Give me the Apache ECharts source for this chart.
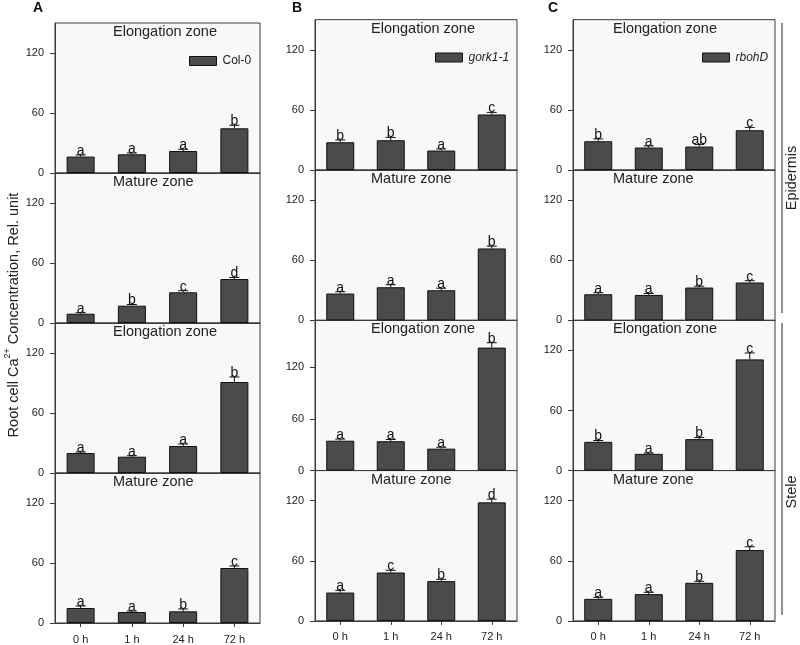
<!DOCTYPE html>
<html><head><meta charset="utf-8">
<script src="https://cdn.jsdelivr.net/npm/echarts@6/dist/echarts.min.js"></script>
<style>html,body{margin:0;padding:0;background:#fff}#c{width:800px;height:645px}</style>
</head><body><div id="c"></div>
<script>
// ---------- DATA ----------
const categories = ['0 h', '1 h', '24 h', '72 h'];
const yTicks = [0, 60, 120];
const genotypes = ['Col-0', 'gork1-1', 'rbohD'];
const zoneTitles = ['Elongation zone', 'Mature zone', 'Elongation zone', 'Mature zone'];
const tissueLabels = ['Epidermis', 'Stele'];
const panelLetters = ['A', 'B', 'C'];

// Col-0
const col0_epiElong_mean = [16.4, 18.7, 22, 44.7];
const col0_epiElong_err = [18, 20, 23.7, 47.7];
const col0_epiElong_sig = ['a', 'a', 'a', 'b'];
const col0_epiMature_mean = [9.3, 17.3, 30.7, 44];
const col0_epiMature_err = [10.3, 18.5, 32.3, 45.5];
const col0_epiMature_sig = ['a', 'b', 'c', 'd'];
const col0_steleElong_mean = [20, 16.3, 27, 91];
const col0_steleElong_err = [21, 17.3, 29, 96];
const col0_steleElong_sig = ['a', 'a', 'a', 'b'];
const col0_steleMature_mean = [15, 11, 11.7, 55];
const col0_steleMature_err = [17, 12, 14, 57];
const col0_steleMature_sig = ['a', 'a', 'b', 'c'];
// gork1-1
const gork_epiElong_mean = [27.7, 29.7, 19.4, 55.4];
const gork_epiElong_err = [30, 32.5, 21, 57.5];
const gork_epiElong_sig = ['b', 'b', 'a', 'c'];
const gork_epiMature_mean = [26.7, 33, 30, 71.7];
const gork_epiMature_err = [28.5, 35.5, 32, 74];
const gork_epiMature_sig = ['a', 'a', 'a', 'b'];
const gork_steleElong_mean = [34.6, 34, 25.4, 142.4];
const gork_steleElong_err = [36.5, 36, 27, 148];
const gork_steleElong_sig = ['a', 'a', 'a', 'b'];
const gork_steleMature_mean = [28.3, 48.3, 39.7, 118.3];
const gork_steleMature_err = [30.5, 50.5, 41.5, 121.5];
const gork_steleMature_sig = ['a', 'c', 'b', 'd'];
// rbohD
const rboh_epiElong_mean = [28.7, 22.4, 23.4, 39.7];
const rboh_epiElong_err = [31, 24, 25.5, 42.5];
const rboh_epiElong_sig = ['b', 'a', 'ab', 'c'];
const rboh_epiMature_mean = [26, 25.3, 32.7, 37.7];
const rboh_epiMature_err = [27.5, 26.7, 34, 39.5];
const rboh_epiMature_sig = ['a', 'a', 'b', 'c'];
const rboh_steleElong_mean = [28.7, 16.7, 31.4, 111];
const rboh_steleElong_err = [30, 17.5, 33, 117.4];
const rboh_steleElong_sig = ['b', 'a', 'b', 'c'];
const rboh_steleMature_mean = [22, 26.7, 38, 70.7];
const rboh_steleMature_err = [23.5, 28.5, 39.5, 74];
const rboh_steleMature_sig = ['a', 'a', 'b', 'c'];

// axis maxima per panel (column-major)
const axisMax = [[150, 150, 150, 150], [150, 150, 174, 150], [150, 150, 150, 150]];

// ---------- LAYOUT ----------
const panels = [
  [[col0_epiElong_mean, col0_epiElong_err, col0_epiElong_sig],
   [col0_epiMature_mean, col0_epiMature_err, col0_epiMature_sig],
   [col0_steleElong_mean, col0_steleElong_err, col0_steleElong_sig],
   [col0_steleMature_mean, col0_steleMature_err, col0_steleMature_sig]],
  [[gork_epiElong_mean, gork_epiElong_err, gork_epiElong_sig],
   [gork_epiMature_mean, gork_epiMature_err, gork_epiMature_sig],
   [gork_steleElong_mean, gork_steleElong_err, gork_steleElong_sig],
   [gork_steleMature_mean, gork_steleMature_err, gork_steleMature_sig]],
  [[rboh_epiElong_mean, rboh_epiElong_err, rboh_epiElong_sig],
   [rboh_epiMature_mean, rboh_epiMature_err, rboh_epiMature_sig],
   [rboh_steleElong_mean, rboh_steleElong_err, rboh_steleElong_sig],
   [rboh_steleMature_mean, rboh_steleMature_err, rboh_steleMature_sig]]
];

const FONT = "'Liberation Sans', Arial, sans-serif";
const colLeft = [55, 315, 573];
const colWidth = [205, 202, 202];
const colTop = [23, 19.7, 19.7];
const rowH = [150, 150.3, 150.3];
const titleLeft = [113, 371, 613];
const legendPos = [[184, 50], [430, 46.5], [697, 46.5]];
const panelLetterX = [38, 297, 553];

const grid = [], xAxis = [], yAxis = [], series = [], graphic = [], legend = [];
let idx = 0;
for (let c = 0; c < 3; c++) {
  for (let r = 0; r < 4; r++) {
    const top = colTop[c] + r * rowH[c];
    grid.push({left: colLeft[c], top: top, width: colWidth[c], height: rowH[c],
      show: true, borderColor: '#3a3a3a', borderWidth: 1, backgroundColor: '#f8f8f8'});
    const bottom = r === 3;
    xAxis.push({type: 'category', gridIndex: idx, data: categories,
      axisLine: {show: true, lineStyle: {color: '#3a3a3a', width: 1}},
      axisTick: {show: bottom, alignWithLabel: true, length: 4, lineStyle: {color: '#3a3a3a'}},
      axisLabel: {show: bottom, fontSize: 11, color: '#222', fontFamily: FONT, margin: 11},
      splitLine: {show: false}});
    yAxis.push({type: 'value', gridIndex: idx, min: 0, max: axisMax[c][r],
      axisLine: {show: true, lineStyle: {color: '#3a3a3a', width: 1}},
      axisTick: {show: true, length: 5, customValues: yTicks, lineStyle: {color: '#3a3a3a'}},
      axisLabel: {fontSize: 11, color: '#222', fontFamily: FONT, margin: 11, customValues: yTicks},
      splitLine: {show: false}});
    const [mean, err, sig] = panels[c][r];
    series.push({type: 'bar', name: r === 0 ? genotypes[c] : genotypes[c] + '_' + r,
      xAxisIndex: idx, yAxisIndex: idx, data: mean, barWidth: 28,
      itemStyle: {color: '#4b4b4b', borderColor: '#111', borderWidth: 1},
      silent: true, animation: false});
    series.push({type: 'custom', xAxisIndex: idx, yAxisIndex: idx, z: 5, animation: false, silent: true,
      data: err.map((e, i) => [i, e, mean[i]]),
      renderItem: (function (letters) {
        return function (params, api) {
          const topP = api.coord([api.value(0), api.value(1)]);
          const baseP = api.coord([api.value(0), api.value(2)]);
          return {type: 'group', children: [
            {type: 'line', shape: {x1: topP[0], y1: baseP[1], x2: topP[0], y2: topP[1]}, style: {stroke: '#111', lineWidth: 1}},
            {type: 'line', shape: {x1: topP[0] - 5, y1: topP[1], x2: topP[0] + 5, y2: topP[1]}, style: {stroke: '#111', lineWidth: 1}},
            {type: 'text', x: topP[0], y: topP[1] + 3, style: {text: letters[params.dataIndex], align: 'center',
              verticalAlign: 'bottom', fontSize: 14, fill: '#111', fontFamily: FONT}}
          ]};
        };
      })(sig)});
    graphic.push({type: 'text', left: titleLeft[c], top: top + 1.5,
      style: {text: zoneTitles[r], fontSize: 14.5, fill: '#222', fontFamily: FONT}});
    idx++;
  }
  legend.push({data: [genotypes[c]], left: legendPos[c][0], top: legendPos[c][1], itemWidth: 27, itemHeight: 9,
    itemGap: 5, icon: 'rect', selectedMode: false,
    itemStyle: {color: '#4b4b4b', borderColor: '#111', borderWidth: 1},
    textStyle: {fontSize: 12, color: '#222', fontFamily: FONT, fontStyle: c === 0 ? 'normal' : 'italic', padding: [0, 0, 0, 1]}});
  graphic.push({type: 'text', x: panelLetterX[c], y: 8, style: {text: panelLetters[c], fontSize: 14, fontWeight: 'bold',
    fill: '#111', fontFamily: FONT, align: 'center', verticalAlign: 'middle'}});
}

// y-axis title
graphic.push({type: 'text', x: 12, y: 315, rotation: Math.PI / 2,
  style: {text: '{n|Root cell Ca}{s|2+}{n| Concentration, Rel. unit}', align: 'center', verticalAlign: 'middle',
    rich: {n: {fontSize: 14.5, fill: '#222', fontFamily: FONT, verticalAlign: 'bottom', lineHeight: 18},
           s: {fontSize: 9, fill: '#222', fontFamily: FONT, verticalAlign: 'top', lineHeight: 18, padding: [0, 0, 8, 0]}}}});
// tissue brackets
graphic.push({type: 'line', shape: {x1: 782, y1: 23, x2: 782, y2: 313}, style: {stroke: '#222', lineWidth: 1}});
graphic.push({type: 'line', shape: {x1: 782, y1: 323, x2: 782, y2: 615}, style: {stroke: '#222', lineWidth: 1}});
graphic.push({type: 'text', x: 792, y: 178, rotation: Math.PI / 2,
  style: {text: tissueLabels[0], fontSize: 14.5, fill: '#222', fontFamily: FONT, align: 'center', verticalAlign: 'middle'}});
graphic.push({type: 'text', x: 792, y: 492, rotation: Math.PI / 2,
  style: {text: tissueLabels[1], fontSize: 14.5, fill: '#222', fontFamily: FONT, align: 'center', verticalAlign: 'middle'}});

const chart = echarts.init(document.getElementById('c'), null, {renderer: 'canvas'});
chart.setOption({backgroundColor: '#ffffff', animation: false, grid, xAxis, yAxis, series, legend, graphic});
</script></body></html>
